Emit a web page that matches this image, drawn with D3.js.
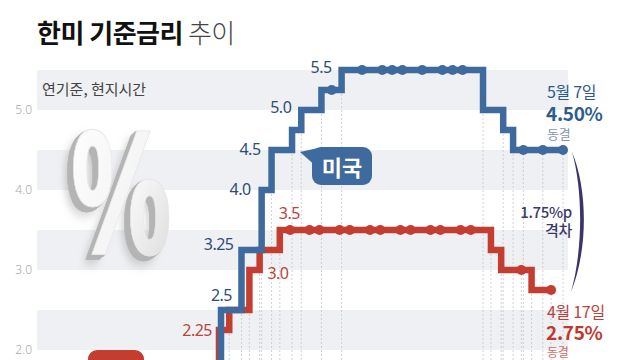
<!DOCTYPE html>
<html><head><meta charset="utf-8">
<script src="https://cdn.jsdelivr.net/npm/d3@7"></script>
<style>
html,body{margin:0;padding:0;background:#fff;}
svg{display:block;}
text{font-family:"Noto Sans","Noto Sans CJK KR",sans-serif;}
.kr{font-family:"Noto Sans CJK KR","Noto Sans",sans-serif;}
</style></head>
<body>
<script>
// ---- data ----
const usDates = ["2022-06","2022-07","2022-09","2022-11","2022-12","2023-02","2023-03","2023-05","2023-06","2023-07","2023-09","2023-11","2023-12","2024-01","2024-03","2024-05","2024-06","2024-07","2024-09","2024-11","2024-12","2025-01","2025-03","2025-05"];
const usRates = [1.75,2.5,3.25,4.0,4.5,4.75,5.0,5.25,5.25,5.5,5.5,5.5,5.5,5.5,5.5,5.5,5.5,5.5,5.0,4.75,4.5,4.5,4.5,4.5];
const krDates = ["2022-05","2022-07","2022-08","2022-10","2022-11","2023-01","2023-02","2023-04","2023-05","2023-07","2023-08","2023-10","2023-11","2024-01","2024-02","2024-04","2024-05","2024-07","2024-08","2024-10","2024-11","2025-01","2025-02","2025-04"];
const krRates = [1.75,2.25,2.5,3.0,3.25,3.5,3.5,3.5,3.5,3.5,3.5,3.5,3.5,3.5,3.5,3.5,3.5,3.5,3.5,3.25,3.0,3.0,2.75,2.75];
const yTicks = [2,3,4,5];
const usLabels = ["2022-07","2022-09","2022-11","2022-12","2023-03","2023-07"];
const krLabels = ["2022-07","2022-10","2023-01"];
const usLabelText = ["2.5","3.25","4.0","4.5","5.0","5.5"];
const krLabelText = ["2.25","3.0","3.5"];

// ---- layout ----
const W=640,H=360;
const parse=d3.timeParse("%Y-%m");
const x=d3.scaleTime().domain([parse("2022-07"),parse("2025-05")]).range([221,563]);
const y=d3.scaleLinear().domain([2,5.5]).range([350,70]);
const BLUE="#3f6a9e", RED="#c33d31";

const svg=d3.select("body").append("svg").attr("width",W).attr("height",H);
const defs=svg.append("defs");
const g1=defs.append("linearGradient").attr("id","pg").attr("x1","0").attr("y1","0").attr("x2","1").attr("y2","1");
g1.append("stop").attr("offset","0").attr("stop-color","#ffffff");
g1.append("stop").attr("offset","0.6").attr("stop-color","#f4f4f4");
g1.append("stop").attr("offset","1").attr("stop-color","#d6d6d6");
// extrusion filter
const f=defs.append("filter").attr("id","ext").attr("x","-20%").attr("y","-20%").attr("width","140%").attr("height","140%");
const offs=[];
for(let i=1;i<=8;i++){
  f.append("feOffset").attr("in","SourceAlpha").attr("dx",-i*0.9).attr("dy",i*0.45).attr("result","o"+i);
  offs.push("o"+i);
}
const m=f.append("feMerge").attr("result","ex");
offs.forEach(o=>m.append("feMergeNode").attr("in",o));
f.append("feFlood").attr("flood-color","#b4b4b4").attr("result","fc");
f.append("feComposite").attr("in","fc").attr("in2","ex").attr("operator","in").attr("result","exc");
f.append("feOffset").attr("in","SourceAlpha").attr("dx",-10).attr("dy",7).attr("result","sh0");
f.append("feGaussianBlur").attr("in","sh0").attr("stdDeviation",4).attr("result","sh1");
f.append("feFlood").attr("flood-color","#888").attr("flood-opacity",0.35).attr("result","sc");
f.append("feComposite").attr("in","sc").attr("in2","sh1").attr("operator","in").attr("result","shc");
const m2=f.append("feMerge");
m2.append("feMergeNode").attr("in","shc");
m2.append("feMergeNode").attr("in","exc");
m2.append("feMergeNode").attr("in","SourceGraphic");

// title
const title=svg.append("text").attr("class","kr").attr("x",37).attr("y",31).attr("dominant-baseline","central")
  .attr("font-size",26).attr("letter-spacing",-0.5);
title.append("tspan").attr("font-weight",700).attr("fill","#111").text("한미 기준금리");
title.append("tspan").attr("font-weight",300).attr("fill","#444").attr("dx",5).text("추이");

// bands
svg.append("g").selectAll("rect").data(yTicks).join("rect")
  .attr("x",37).attr("width",531).attr("y",d=>y(d+0.5)).attr("height",d=>y(d)-y(d+0.5)).attr("fill","#eef0f3");

svg.append("text").attr("class","kr").attr("x",42).attr("y",88).attr("dominant-baseline","central")
  .attr("font-size",15).attr("fill","#444").text("연기준, 현지시간");

// y axis
const ax=svg.append("g").attr("transform","translate(33,0)")
  .call(d3.axisLeft(y).tickValues(yTicks).tickFormat(d3.format(".1f")).tickSize(0).tickPadding(1));
ax.select(".domain").remove();
ax.selectAll("text").attr("font-size",12).attr("fill","#a8a8a8").attr("font-family","Roboto").attr("font-weight",300);

// big percent sign (glyph scaled vertically so its text box stays below the subtitle)
svg.append("text").attr("transform","translate(70,254) scale(0.86,1.3)")
  .attr("font-family","DejaVu Sans").attr("font-weight",700).attr("font-size",132)
  .attr("fill","url(#pg)").attr("stroke","#e6e6e6").attr("stroke-width",0.6).attr("filter","url(#ext)").text("%");

// series
const us=usDates.map((d,i)=>({date:parse(d),v:usRates[i],hold:i>0&&usRates[i]===usRates[i-1],chg:i>0&&usRates[i]!==usRates[i-1]}));
const kr=krDates.map((d,i)=>({date:parse(d),v:krRates[i],hold:i>0&&krRates[i]===krRates[i-1],chg:i>0&&krRates[i]!==krRates[i-1]}));

// dotted verticals at changes and final holds
const vx=[];
us.forEach(p=>{ if(p.chg || (p.hold && p.date>=parse("2025-01"))) vx.push({x:x(p.date),y:y(p.v)+4}); });
kr.forEach(p=>{ if(p.chg || (p.hold && p.date>=parse("2025-01"))) vx.push({x:x(p.date)-2,y:y(p.v)+4}); });
svg.append("g").selectAll("line").data(vx).join("line")
  .attr("x1",d=>d.x).attr("x2",d=>d.x).attr("y1",d=>d.y).attr("y2",H)
  .attr("stroke","#c4c7cc").attr("stroke-width",0.8).attr("stroke-dasharray","2,2");

const line=d3.line().x(d=>x(d.date)).y(d=>y(d.v)).curve(d3.curveStepAfter);
function drawSeries(data,color,dx){
  const g=svg.append("g").attr("transform",`translate(${dx},0)`);
  g.append("path").attr("d",line(data)).attr("fill","none").attr("stroke",color).attr("stroke-width",6.5)
    .attr("stroke-linejoin","miter").attr("stroke-linecap","butt");
  g.selectAll("circle").data(data.filter(d=>d.hold)).join("circle")
    .attr("cx",d=>x(d.date)).attr("cy",d=>y(d.v)).attr("r",5).attr("fill",color);
}
drawSeries(kr,RED,-2);
drawSeries(us,BLUE,0);

// value labels
const usOff=[[11,-15,"end"],[-8,-6,"end"],[-11,-1,"end"],[-11,-1,"end"],[-10,-3,"end"],[-10,-3,"end"]];
const krOff=[[-9,0,"end"],[16,3,"start"],[-3,-17,"start"]];
svg.append("g").selectAll("text").data(usLabels).join("text")
  .attr("x",(d,i)=>x(parse(d))+usOff[i][0]).attr("y",(d,i)=>y(usRates[usDates.indexOf(d)])+usOff[i][1])
  .attr("text-anchor",(d,i)=>usOff[i][2]).attr("dominant-baseline","central")
  .attr("font-size",16).attr("fill","#2f4c78").attr("letter-spacing",-0.5).text((d,i)=>usLabelText[i]);
svg.append("g").selectAll("text").data(krLabels).join("text")
  .attr("x",(d,i)=>x(parse(d))+krOff[i][0]).attr("y",(d,i)=>y(krRates[krDates.indexOf(d)])+krOff[i][1])
  .attr("text-anchor",(d,i)=>krOff[i][2]).attr("dominant-baseline","central")
  .attr("font-size",16).attr("fill","#b9443b").attr("letter-spacing",-0.5).text((d,i)=>krLabelText[i]);

// badges
const b1=svg.append("g");
b1.append("path").attr("d","M300,152 L318,148 L318,168 Z").attr("fill",BLUE);
b1.append("rect").attr("x",312).attr("y",147).attr("width",60).attr("height",38).attr("rx",9).attr("fill",BLUE);
b1.append("text").attr("class","kr").attr("x",342).attr("y",166).attr("text-anchor","middle").attr("dominant-baseline","central")
  .attr("font-size",22).attr("font-weight",700).attr("fill","#fff").text("미국");
const b2=svg.append("g");
b2.append("rect").attr("x",88).attr("y",350).attr("width",56).attr("height",38).attr("rx",9).attr("fill",RED);
b2.append("text").attr("class","kr").attr("x",116).attr("y",369).attr("text-anchor","middle").attr("dominant-baseline","central")
  .attr("font-size",22).attr("font-weight",700).attr("fill","#fff").text("한국");

// right annotations
function ann(tx,xx,yy,size,weight,color,anchor){
  svg.append("text").attr("class","kr").attr("x",xx).attr("y",yy).attr("dominant-baseline","central")
   .attr("text-anchor",anchor||"start").attr("font-size",size).attr("font-weight",weight).attr("fill",color)
   .attr("letter-spacing",-0.3).text(tx);
}
const lastUS=us[us.length-1], lastKR=kr[kr.length-1];
ann("5월 7일",547,91,16,400,"#2d5a8e");
ann(d3.format(".2f")(lastUS.v)+"%",546,112,19,700,"#2d5c92");
ann("동결",547,133,13,400,"#8796aa");
ann(d3.format(".2f")(lastUS.v-lastKR.v)+"%p",572,211,15,500,"#3b386c","end");
ann("격차",572,229,15,500,"#3b386c","end");
ann("4월 17일",547,311,16,400,"#b8433b");
ann(d3.format(".2f")(lastKR.v)+"%",546,331,19,700,"#c0392b");
ann("동결",547,351,12,400,"#c9736a");

// brace
svg.append("path").attr("d","M572,152 C588,190 588,250 571,292 C583,250 583,190 572,152 Z").attr("fill","#3a366b");
</script>
</body></html>
